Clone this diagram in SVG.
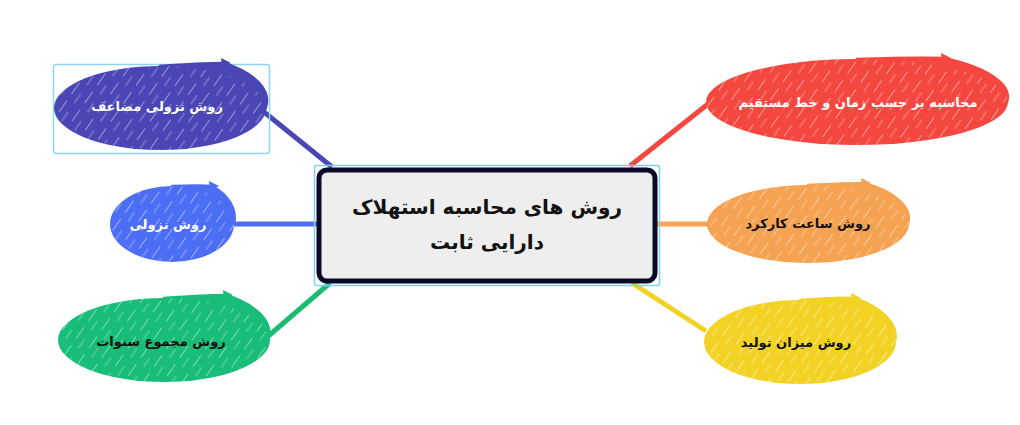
<svg xmlns="http://www.w3.org/2000/svg" width="1020" height="425" viewBox="0 0 1020 425">
<defs>
<pattern id="hatch" width="16" height="22" patternUnits="userSpaceOnUse" patternTransform="rotate(35)">
<line x1="0" y1="0" x2="0" y2="14" stroke="#ffffff" stroke-width="1.2" stroke-opacity="0.75"/>
<line x1="8" y1="9" x2="8" y2="20" stroke="#ffffff" stroke-width="0.8" stroke-opacity="0.5"/>
</pattern>
<style>
.conn{fill:none;stroke-width:5;stroke-linecap:butt}
.hatch{fill:url(#hatch)}
.tail{stroke-width:2.5;stroke-linecap:round;stroke-linejoin:round}
.lbl{font-family:"DejaVu Sans","Noto Sans",sans-serif;font-weight:bold;font-size:13px;text-anchor:middle;dominant-baseline:central}
.w{fill:#ffffff}
.k{fill:#111111}
.title{font-family:"DejaVu Sans","Noto Sans",sans-serif;font-weight:bold;font-size:20px;text-anchor:middle;fill:#111111}
</style>
</defs>
<rect width="1020" height="425" fill="#ffffff"/>
<g id="connectors">
<path class="conn" stroke="#4a46b5" d="M264,112 L332,167"/>
<path class="conn" stroke="#4c6ef5" d="M230,224 L318,224"/>
<path class="conn" stroke="#1abc74" d="M266,338 L330,283"/>
<path class="conn" stroke="#f4473f" d="M630,166 L708,104"/>
<path class="conn" stroke="#f5a352" d="M656,224 L708,224"/>
<path class="conn" stroke="#f2d325" d="M632,283 L706,331"/>
</g>
<g id="node-center">
<rect x="314.5" y="165.5" width="345" height="120" rx="2" fill="none" stroke="#7fd0f5" stroke-width="1.5"/>
<rect x="319" y="170" width="336" height="111" rx="8" fill="#eeeeee" stroke="#0a0a28" stroke-width="5"/>
<text class="title" x="487" y="214">روش های محاسبه استهلاک</text>
<text class="title" x="487" y="249">دارایی ثابت</text>
</g>
<g id="node-double-declining">
<rect x="53.5" y="64.5" width="216" height="89" rx="3" fill="none" stroke="#8fd3f5" stroke-width="1.5"/>
<path class="tail" fill="#4a46b5" stroke="#4a46b5" d="M160,66 Q200,63 224,63 A100 46 0 0 1 265,110 L160,108 Z"/>
<ellipse cx="160" cy="108" rx="106" ry="42" fill="#4a46b5"/>
<ellipse cx="160" cy="108" rx="106" ry="42" class="hatch"/>
<polygon fill="#4a46b5" points="231,63 221,58 222,68"/>
<text class="lbl w" x="157" y="106">روش نزولی مضاعف</text>
</g>
<g id="node-declining">
<path class="tail" fill="#4c6ef5" stroke="#4c6ef5" d="M172,186 Q200,185 212,186 A58 40 0 0 1 234,224 L172,224 Z"/>
<ellipse cx="172" cy="224" rx="62" ry="38" fill="#4c6ef5"/>
<ellipse cx="172" cy="224" rx="62" ry="38" class="hatch"/>
<polygon fill="#4c6ef5" points="219,186 209,181 210,191"/>
<text class="lbl w" x="168" y="224">روش نزولی</text>
</g>
<g id="node-sum-of-years">
<path class="tail" fill="#18bd77" stroke="#18bd77" d="M164,298 Q205,295 226,295 A100 46 0 0 1 268,340 L164,340 Z"/>
<ellipse cx="164" cy="340" rx="106" ry="42" fill="#18bd77"/>
<ellipse cx="164" cy="340" rx="106" ry="42" class="hatch"/>
<polygon fill="#18bd77" points="233,295 223,290 224,300"/>
<text class="lbl k" x="161" y="341">روش مجموع سنوات</text>
</g>
<g id="node-straight-line">
<path class="tail" fill="#f4473f" stroke="#f4473f" d="M857,59 Q915,57 944,58 A145 47 0 0 1 1007,102 L857,102 Z"/>
<ellipse cx="857" cy="102" rx="151" ry="43" fill="#f4473f"/>
<ellipse cx="857" cy="102" rx="151" ry="43" class="hatch"/>
<polygon fill="#f4473f" points="951,58 941,53 942,63"/>
<text class="lbl w" x="858" y="102">محاسبه بر حسب زمان و خط مستقیم</text>
</g>
<g id="node-working-hours">
<path class="tail" fill="#f5a352" stroke="#f5a352" d="M808,185 Q850,183 864,183 A96 42 0 0 1 908,224 L808,224 Z"/>
<ellipse cx="808" cy="224" rx="101" ry="39" fill="#f5a352"/>
<ellipse cx="808" cy="224" rx="101" ry="39" class="hatch"/>
<polygon fill="#f5a352" points="871,183 861,178 862,188"/>
<text class="lbl k" x="808" y="223">روش ساعت کارکرد</text>
</g>
<g id="node-production">
<path class="tail" fill="#f2d325" stroke="#f2d325" d="M800,300 Q840,297 854,298 A92 46 0 0 1 895,342 L800,342 Z"/>
<ellipse cx="800" cy="342" rx="96" ry="42" fill="#f2d325"/>
<ellipse cx="800" cy="342" rx="96" ry="42" class="hatch"/>
<polygon fill="#f2d325" points="861,298 851,293 852,303"/>
<text class="lbl k" x="796" y="342">روش میزان تولید</text>
</g>
</svg>
